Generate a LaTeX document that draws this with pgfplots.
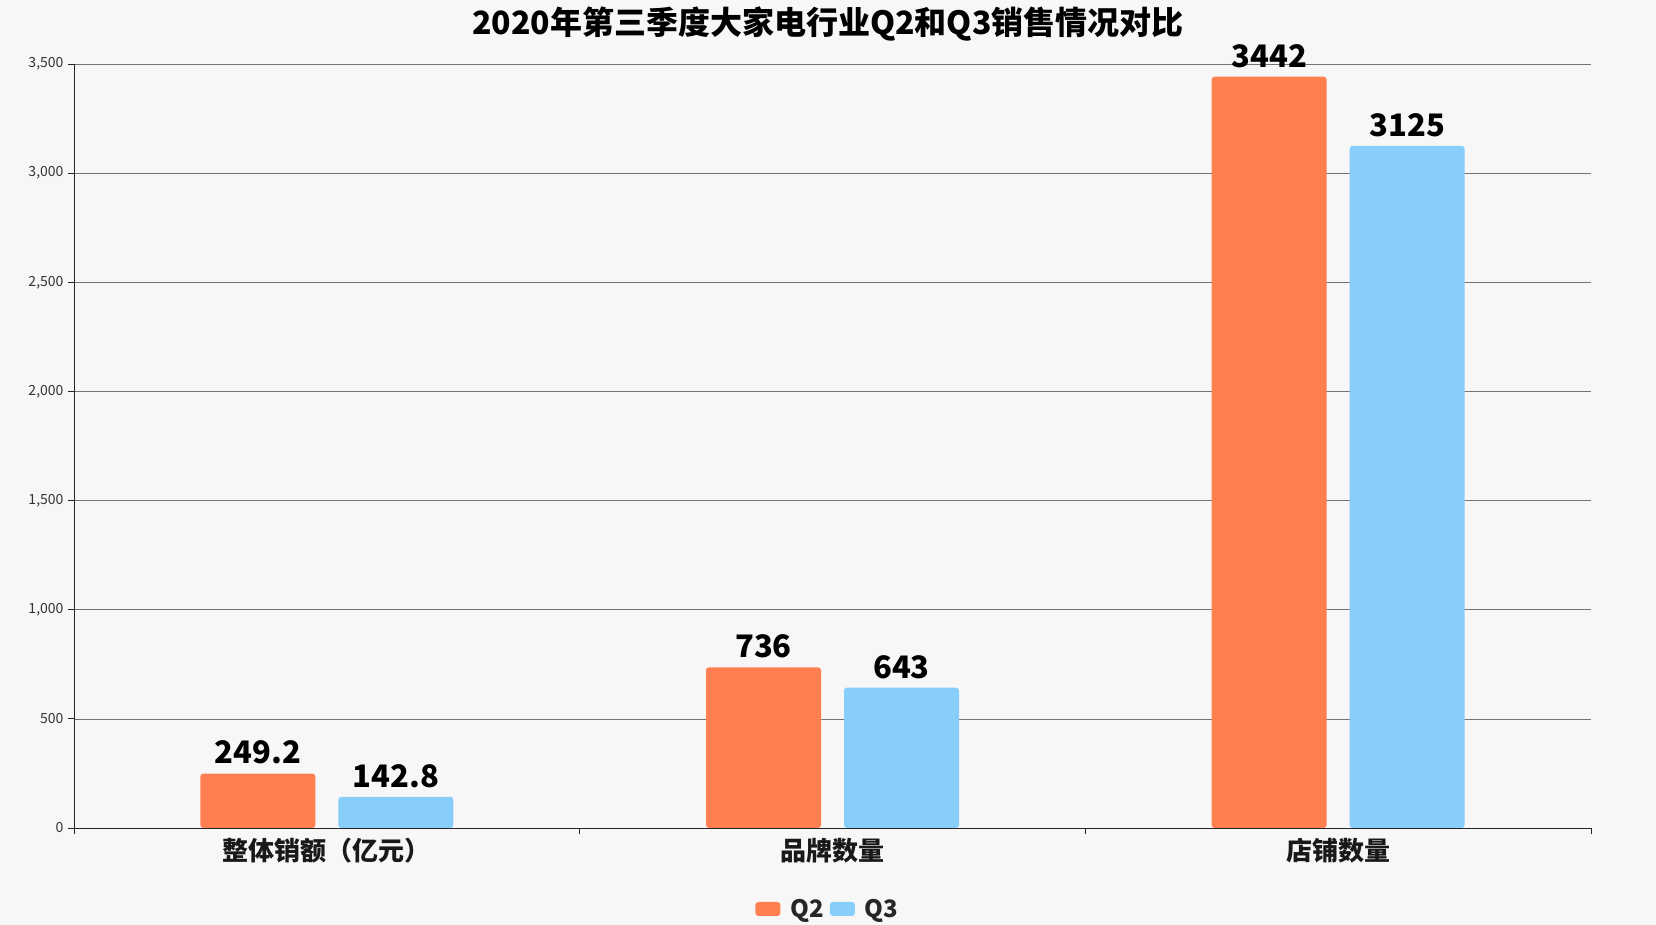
\documentclass[border=0pt]{standalone}
\usepackage{fontspec}
\setmainfont{Noto Sans CJK SC}
\usepackage{pgfplots}
\pgfplotsset{compat=1.18}
\definecolor{bg}{HTML}{F7F7F7}
\definecolor{qtwo}{HTML}{FF7F50}
\definecolor{qthree}{HTML}{87CEFA}
\definecolor{txt}{HTML}{333333}
\begin{document}
\begin{tikzpicture}
\path[use as bounding box, fill=bg] (0,0) rectangle (1656pt,925pt);
\node[font=\bfseries\fontsize{32}{37}\selectfont, text=black] at (828pt,901pt) {2020年第三季度大家电行业Q2和Q3销售情况对比};
\begin{axis}[
  at={(74pt,97pt)}, anchor=south west, scale only axis,
  width=1517pt, height=764pt,
  xmin=-0.5, xmax=2.5, ymin=0, ymax=3500,
  ybar=23pt, bar width=115pt,
  axis x line*=bottom, axis y line*=left,
  axis line style={black!85, line width=0.9pt},
  xtick={0,1,2},
  xticklabels={整体销额（亿元）,品牌数量,店铺数量},
  major x tick style={draw=none},
  minor xtick={-0.5,0.5,1.5,2.5},
  minor x tick style={black!85, line width=0.9pt},
  ytick={0,500,...,3500},
  y tick style={black!85, line width=0.9pt},
  tick align=outside,
  major tick length=6pt, minor tick length=6pt,
  ymajorgrids,
  y grid style={black!55, line width=0.7pt},
  /pgf/number format/assume math mode=true,
  /pgf/number format/1000 sep={,},
  yticklabel style={font=\fontsize{14}{16}\selectfont, text=txt, xshift=-1pt},
  xticklabel style={font=\bfseries\fontsize{26}{30}\selectfont, text=black!90, yshift=-1pt},
  point meta=explicit symbolic,
  nodes near coords,
  every node near coord/.append style={anchor=south, inner sep=0pt, yshift=9pt, font=\bfseries\fontsize{31}{36}\selectfont, text=black},
  legend style={at={(0.497,-0.106)}, anchor=center, draw=none, fill=none,
    legend columns=-1, font=\bfseries\fontsize{24}{27}\selectfont, text=black!85,
    /tikz/every even column/.append style={column sep=4pt},
    /tikz/every odd column/.append style={column sep=8pt}},
  legend image code/.code={\fill[#1, rounded corners=3pt] (0pt,-7pt) rectangle (25pt,7pt);},
]
\addplot[fill=qtwo, draw=none, rounded corners=3pt] coordinates {(0,249.2) [249.2] (1,736) [736] (2,3442) [3442]};
\addplot[fill=qthree, draw=none, rounded corners=3pt] coordinates {(0,142.8) [142.8] (1,643) [643] (2,3125) [3125]};
\legend{Q2,Q3}
\end{axis}
\end{tikzpicture}
\end{document}
